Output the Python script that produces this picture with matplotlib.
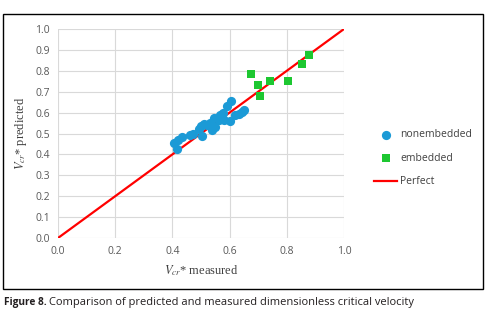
import matplotlib
matplotlib.use("Agg")
import matplotlib.pyplot as plt
from matplotlib.patches import Rectangle

plt.rcParams['mathtext.fontset'] = 'stix'

non_x = [0.404, 0.416, 0.421, 0.433, 0.462, 0.472, 0.494, 0.503, 0.500, 0.511, 0.521, 0.532,
         0.538, 0.544, 0.550, 0.562, 0.567, 0.577, 0.581, 0.602, 0.591, 0.606, 0.620, 0.632,
         0.643, 0.651]
non_y = [0.453, 0.424, 0.469, 0.482, 0.493, 0.496, 0.520, 0.488, 0.536, 0.545, 0.541, 0.549,
         0.517, 0.573, 0.530, 0.565, 0.589, 0.597, 0.565, 0.561, 0.632, 0.657, 0.589, 0.593,
         0.604, 0.612]
emb_x = [0.676, 0.700, 0.706, 0.743, 0.803, 0.852, 0.876]
emb_y = [0.785, 0.733, 0.679, 0.751, 0.753, 0.831, 0.876]
perfect = [0.0, 1.0]
ticks_x = [0.0, 0.2, 0.4, 0.6, 0.8, 1.0]
ticks_y = [0.0, 0.1, 0.2, 0.3, 0.4, 0.5, 0.6, 0.7, 0.8, 0.9, 1.0]

W, H = 490, 317
fig = plt.figure(figsize=(W/100, H/100), dpi=100)
ax = fig.add_axes([58/W, 1-238/H, (344-58)/W, (238-29)/H])

ax.plot(perfect, perfect, color='#ff0000', lw=1.6, label='Perfect', zorder=2)
ax.scatter(non_x, non_y, s=44, color='#1b9ad6', marker='o', label='nonembedded', zorder=3, linewidths=0)
ax.scatter(emb_x, emb_y, s=40, color='#1dc731', marker='s', label='embedded', zorder=3, linewidths=0)

ax.set_xlim(0, 1)
ax.set_ylim(0, 1)
ax.set_xticks(ticks_x)
ax.set_yticks(ticks_y)
ax.set_xticklabels([f"{t:.1f}" for t in ticks_x])
ax.set_yticklabels([f"{t:.1f}" for t in ticks_y])
ax.grid(True, color='#d9d9d9', lw=0.8)
ax.set_axisbelow(True)
for s in ax.spines.values():
    s.set_visible(False)
ax.tick_params(length=0, labelsize=7.5, colors='#595959', pad=6)
for lab in ax.get_xticklabels() + ax.get_yticklabels():
    lab.set_family('Open Sans')

ax.set_xlabel(r'$V_{cr}$* measured', fontsize=9, family='Liberation Serif', color='#404040', labelpad=4)
ax.set_ylabel(r'$V_{cr}$* predicted', fontsize=9, family='Liberation Serif', color='#404040', labelpad=4)

handles, labels = ax.get_legend_handles_labels()
order = [1, 2, 0]
leg = fig.legend([handles[i] for i in order], [labels[i] for i in order],
                 loc='upper left', bbox_to_anchor=(365/W, 1-120/H), frameon=False,
                 prop={'family': 'Open Sans', 'size': 7.5}, labelspacing=1.2,
                 handlelength=2.2, handletextpad=0.3)
for t in leg.get_texts():
    t.set_color('#404040')

fig.patches.append(Rectangle((3/W, 1-289/H), 480/W, 275/H, transform=fig.transFigure,
                             fill=False, edgecolor='black', lw=1.0))

fig.text(4/W, 1-302/H, 'Figure 8.', fontsize=7.3, family='Open Sans', weight='bold',
         color='#231f20', va='center')
fig.text(49/W, 1-302/H, 'Comparison of predicted and measured dimensionless critical velocity',
         fontsize=8.0, family='Open Sans', color='#231f20', va='center')

fig.savefig('out.png', dpi=100)
